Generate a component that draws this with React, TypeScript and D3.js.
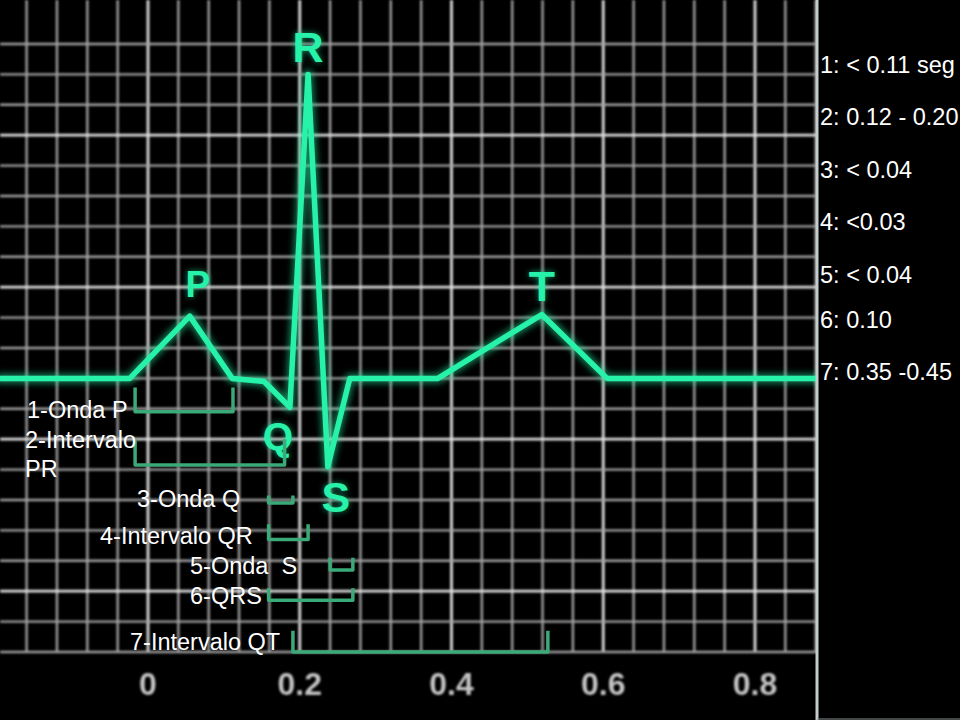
import * as d3 from "d3"

// ECG trace (time in s, amplitude in mV)
const waveTime = [-0.2, -0.024, 0.055, 0.111, 0.153, 0.187, 0.211, 0.237, 0.266, 0.382, 0.519, 0.605, 0.9]
const waveVolt = [0, 0, 0.205, 0, -0.01, -0.095, 1.0, -0.29, 0, 0, 0.21, 0, 0]

// wave letters and the trace point each one belongs to
const waveLetters = ["P", "Q", "R", "S", "T"]
const waveLetterPoint = [2, 5, 6, 7, 10]

const timeTicks = [0, 0.2, 0.4, 0.6, 0.8]

// normal durations (right panel)
const normalValues = ["1: < 0.11 seg", "2: 0.12 - 0.20", "3: < 0.04", "4: <0.03", "5: < 0.04", "6: 0.10", "7: 0.35 -0.45"]

// interval brackets
const bracketLabels = [["1-Onda P"], ["2-Intervalo", "PR"], ["3-Onda Q"], ["4-Intervalo QR"], ["5-Onda  S"], ["6-QRS"], ["7-Intervalo QT"]]
const bracketStart = [-0.017, -0.017, 0.159, 0.159, 0.24, 0.159, 0.191]
const bracketEnd = [0.112, 0.18, 0.191, 0.211, 0.27, 0.27, 0.527]
const bracketTop = [-0.03, -0.2, -0.385, -0.48, -0.59, -0.69, -0.83]
const bracketBottom = [-0.11, -0.285, -0.41, -0.53, -0.63, -0.73, -0.9]

const W = 960
const H = 720
const panelX = 817
const FONT = "'Liberation Sans', Arial, sans-serif"
const GREEN = "#27f2aa"

// label placement (left x, first baseline) for each bracket label
const labelPos = [
  [27, 418],
  [25, 448],
  [137, 507],
  [100, 544],
  [190, 574],
  [190, 604],
  [130, 650],
]
// letter offsets from their trace point
const letterOffset = [
  [8, -19, 37],
  [-12, 43, 39],
  [0, -12, 43],
  [8, 45, 43],
  [0, -14, 43],
]
const noteBaselines = [73, 125, 178, 230, 283, 328, 380]

export default function App() {
  const x = d3.scaleLinear().domain([0, 0.8]).range([148, 755])
  const y = d3.scaleLinear().domain([-0.9, 1.1]).range([652, 44])

  const points = waveTime.map((t, i) => [t, waveVolt[i]] as [number, number])
  const line = d3
    .line<[number, number]>()
    .x((d) => x(d[0]))
    .y((d) => y(d[1]))

  const vGrid = d3.range(-4, 23).map((i) => ({ t: i * 0.04, major: i % 5 === 0 }))
  const hGrid = d3.range(-3, 18).map((k) => ({ v: 0.8 - k * 0.1, major: k % 5 === 0 }))

  return (
    <svg width={W} height={H} style={{ position: "absolute", left: 0, top: 0, background: "#000" }} fontFamily={FONT}>
      <defs>
        <filter id="glow" x="-20%" y="-20%" width="140%" height="140%">
          <feGaussianBlur stdDeviation="3" />
        </filter>
        <filter id="soft">
          <feGaussianBlur stdDeviation="0.8" />
        </filter>
        <clipPath id="plot">
          <rect x={0} y={0} width={panelX} height={H} />
        </clipPath>
      </defs>
      <rect width={W} height={H} fill="#000" />

      {/* grid */}
      <g filter="url(#soft)" clipPath="url(#plot)">
        {vGrid.map((g, i) => (
          <line
            key={"v" + i}
            x1={x(g.t)}
            x2={x(g.t)}
            y1={0}
            y2={y(-0.9)}
            stroke={g.major ? "#dcdcdc" : "#a0a0a0"}
            strokeWidth={g.major ? 2.8 : 2.4}
          />
        ))}
        {hGrid.map((g, i) => (
          <line
            key={"h" + i}
            x1={0}
            x2={panelX}
            y1={y(g.v)}
            y2={y(g.v)}
            stroke={g.major ? "#dcdcdc" : "#a0a0a0"}
            strokeWidth={g.major ? 2.8 : 2.4}
          />
        ))}
      </g>

      {/* axis labels */}
      <g filter="url(#soft)">
        {timeTicks.map((t) => (
          <text key={t} x={x(t)} y={695} textAnchor="middle" fontSize={32} fontWeight="bold" fill="#c4c4c4">
            {t === 0 ? "0" : String(t)}
          </text>
        ))}
      </g>

      {/* ECG trace */}
      <g clipPath="url(#plot)">
        <path d={line(points) || ""} fill="none" stroke={GREEN} strokeOpacity={0.5} strokeWidth={10} strokeLinejoin="round" filter="url(#glow)" />
        <path d={line(points) || ""} fill="none" stroke={GREEN} strokeWidth={5.5} strokeLinejoin="round" />
      </g>

      {/* wave letters */}
      {waveLetters.map((L, i) => {
        const p = points[waveLetterPoint[i]]
        const [dx, dy, fs] = letterOffset[i]
        return (
          <g key={L}>
            <text x={x(p[0]) + dx} y={y(p[1]) + dy} textAnchor="middle" fontSize={fs} fontWeight="bold" fill={GREEN} opacity={0.6} filter="url(#glow)">
              {L}
            </text>
            <text x={x(p[0]) + dx} y={y(p[1]) + dy} textAnchor="middle" fontSize={fs} fontWeight="bold" fill={GREEN}>
              {L}
            </text>
          </g>
        )
      })}

      {/* brackets */}
      {bracketStart.map((s, i) => {
        const x0 = x(s)
        const x1 = x(bracketEnd[i])
        const yt = y(bracketTop[i])
        const yb = y(bracketBottom[i])
        return (
          <path
            key={"b" + i}
            d={`M${x0},${yt}L${x0},${yb}L${x1},${yb}L${x1},${yt}`}
            fill="none"
            stroke="#3aaa78"
            strokeWidth={3.5}
            strokeLinejoin="round"
          />
        )
      })}

      {/* bracket labels */}
      {bracketLabels.map((lines, i) => (
        <text key={"l" + i} x={labelPos[i][0]} y={labelPos[i][1]} fontSize={23.5} fill="#fff" style={{ whiteSpace: "pre" }}>
          {lines.map((s, j) => (
            <tspan key={j} x={labelPos[i][0]} dy={j === 0 ? 0 : 29}>
              {s}
            </tspan>
          ))}
        </text>
      ))}

      {/* right panel */}
      <rect x={panelX} y={0} width={W - panelX} height={H} fill="#000" />
      <line x1={panelX} x2={panelX} y1={0} y2={H} stroke="#c4cccc" strokeWidth={3} />
      <line x1={panelX} x2={W} y1={H - 1} y2={H - 1} stroke="#8a9090" strokeWidth={1} />
      {normalValues.map((s, i) => (
        <text key={s} x={820} y={noteBaselines[i]} fontSize={23.5} fill="#fff">
          {s}
        </text>
      ))}
    </svg>
  )
}
